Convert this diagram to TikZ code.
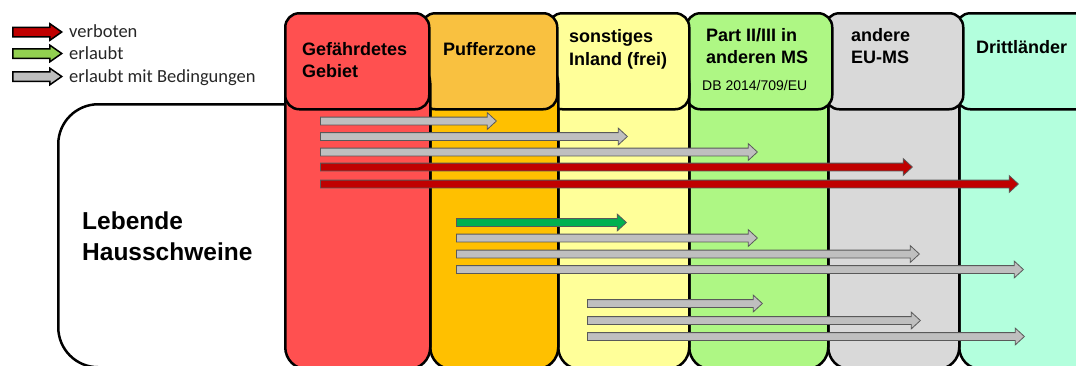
\documentclass[tikz,border=0pt]{standalone}
\usepackage{fontspec}
\setmainfont{Liberation Sans}
\newfontfamily\legendfont{Carlito}
\usetikzlibrary{shapes.arrows}

\definecolor{gebiet}{HTML}{FF5050}
\definecolor{pufferkopf}{HTML}{F9C140}
\definecolor{puffer}{HTML}{FFC000}
\definecolor{inland}{HTML}{FFFF99}
\definecolor{partms}{HTML}{AEF784}
\definecolor{eums}{HTML}{D9D9D9}
\definecolor{dritt}{HTML}{B3FFDD}
\definecolor{pfeilrot}{HTML}{C00000}
\definecolor{pfeilgruen}{HTML}{00B050}
\definecolor{hellgruen}{HTML}{92D050}
\definecolor{pfeilgrau}{HTML}{BFBFBF}

\begin{document}
\begin{tikzpicture}[x=1pt, y=-1pt,
	spalte/.style={draw, line width=2.5pt, rounded corners=22pt, anchor=north west, minimum height=308pt, inner sep=0pt},
	kopf/.style={draw, line width=2.5pt, rounded corners=14pt, anchor=north west, minimum height=96pt, inner sep=0pt},
	titel/.style={anchor=base west, align=left, inner sep=0pt, font=\bfseries\fontsize{18}{22.3}\selectfont},
	pfeil/.style={single arrow, draw=black!65, line width=0.8pt, inner sep=3.5pt, single arrow head extend=4.5pt, single arrow tip angle=85, anchor=tail},
	verboten/.style={pfeil, fill=pfeilrot},
	erlaubt/.style={pfeil, fill=pfeilgruen},
	bedingt/.style={pfeil, fill=pfeilgrau},
	legende/.style={single arrow, draw=black, line width=1.5pt, inner sep=4pt, single arrow head extend=3.5pt, single arrow tip angle=70, minimum height=49pt, anchor=tail},
	legtext/.style={anchor=base west, inner sep=0pt, text=black!85, font=\legendfont\fontsize{18.5}{22}\selectfont}]
	\useasboundingbox (0, 0) rectangle (1076, 365);

	% Legende
	\node[legende, fill=pfeilrot] (l1) at (12, 32) {};
	\node[legende, fill=hellgruen] (l2) at (12, 53.5) {};
	\node[legende, fill=pfeilgrau] (l3) at (12, 76.5) {};
	\node[legtext] (lt1) at (69, 37) {verboten};
	\node[legtext] (lt2) at (69, 59) {erlaubt};
	\node[legtext] (lt3) at (69, 82) {erlaubt mit Bedingungen};

	\node[draw, line width=2.5pt, rounded corners=40pt, anchor=north west, minimum width=300pt, minimum height=263pt, fill=white] (tier) at (57, 103) {};
	\node[titel, font=\bfseries\fontsize{24.5}{31}\selectfont] (tiername) at (82, 260) {Lebende\\Hausschweine};

	% Spalten von rechts nach links
	\node[spalte, fill=dritt, minimum width=140pt] (s6) at (958, 60) {};
	\node[kopf, fill=dritt, minimum width=140pt] (k6) at (955, 12) {};
	\node[spalte, fill=eums, minimum width=131pt] (s5) at (827, 60) {};
	\node[kopf, fill=eums, minimum width=138pt] (k5) at (824, 12) {};
	\node[spalte, fill=partms, minimum width=139pt] (s4) at (688, 60) {};
	\node[kopf, fill=partms, minimum width=146pt] (k4) at (685, 12) {};
	\node[spalte, fill=inland, minimum width=131pt] (s3) at (557, 60) {};
	\node[kopf, fill=inland, minimum width=141pt] (k3) at (547, 12) {};
	\node[spalte, fill=puffer, minimum width=128pt] (s2) at (429, 60) {};
	\node[kopf, fill=pufferkopf, minimum width=136pt] (k2) at (420, 12) {};
	\node[spalte, fill=gebiet, minimum width=145pt] (s1) at (284, 60) {};
	\node[kopf, fill=gebiet, minimum width=144pt] (k1) at (284, 12) {};

	\node[titel] (t1) at (302, 77.3) {Gefährdetes\\Gebiet};
	\node[titel] (t2) at (443, 55) {Pufferzone};
	\node[titel] (t3) at (569, 65) {sonstiges\\Inland (frei)};
	\node[titel] (t4) at (706, 63.3) {Part II/III in\\anderen MS};
	\node[anchor=base west, inner sep=0pt, font=\fontsize{14}{16}\selectfont] (t4b) at (702, 90.7) {DB 2014/709/EU};
	\node[titel] (t5) at (851, 63.3) {andere\\EU-MS};
	\node[titel] (t6) at (976, 53.3) {Drittländer};

	% Pfeile
	\node[bedingt, minimum height=176pt] (a1) at (320, 121) {};
	\node[bedingt, minimum height=307pt] (a2) at (320, 136.5) {};
	\node[bedingt, minimum height=437pt] (a3) at (320, 152) {};
	\node[verboten, minimum height=592pt] (a4) at (320, 167) {};
	\node[verboten, minimum height=698pt] (a5) at (320, 184) {};

	\node[erlaubt, minimum height=170pt] (a6) at (456, 222.5) {};
	\node[bedingt, minimum height=301pt] (a7) at (456, 238) {};
	\node[bedingt, minimum height=463pt] (a8) at (456, 254) {};
	\node[bedingt, minimum height=567pt] (a9) at (456, 269.5) {};

	\node[bedingt, minimum height=175pt] (a10) at (587, 303.5) {};
	\node[bedingt, minimum height=333pt] (a11) at (587, 320.5) {};
	\node[bedingt, minimum height=437pt] (a12) at (587, 336.5) {};
\end{tikzpicture}
\end{document}
